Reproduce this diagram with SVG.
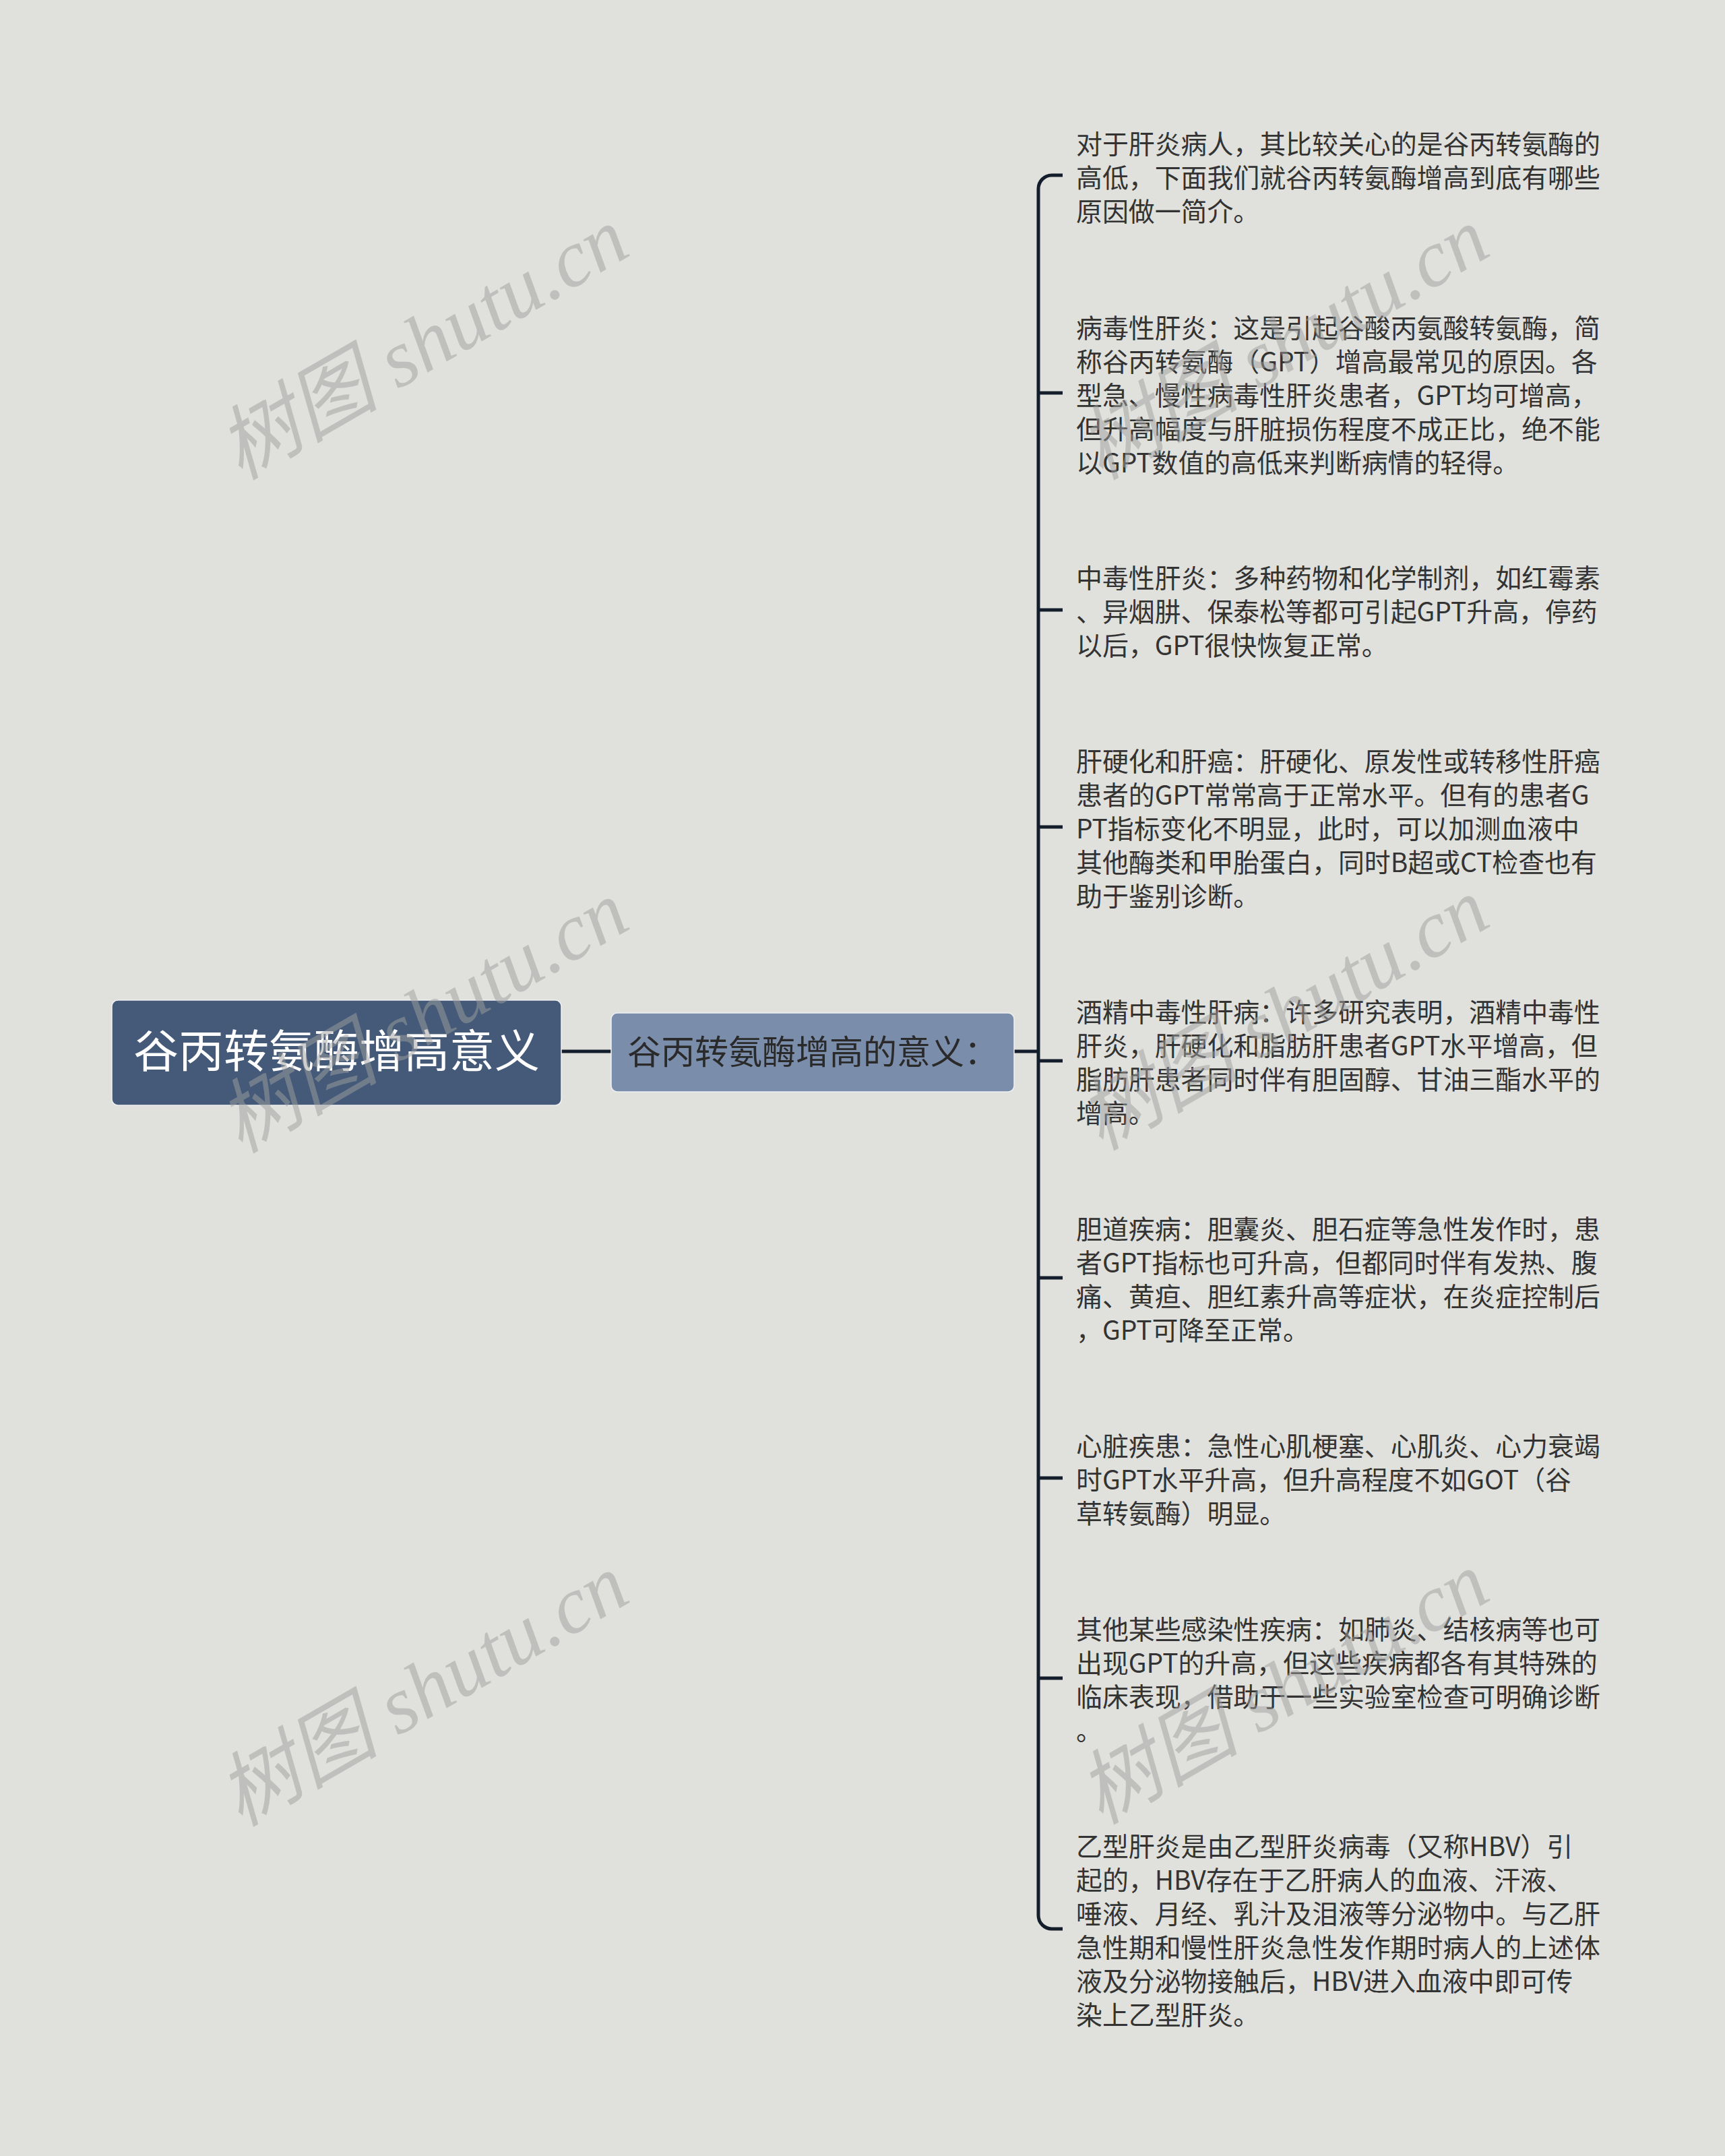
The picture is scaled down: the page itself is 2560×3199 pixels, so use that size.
<svg xmlns="http://www.w3.org/2000/svg" width="2560" height="3199" viewBox="0 0 2560 3199">
<style>
.bg{fill:#e0e1dc}
.conn{fill:none;stroke:#131d2b;stroke-width:5;stroke-linecap:butt}
.root{fill:#445a78;stroke:#eef0f2;stroke-width:1.5}
.sub{fill:#7a8dab;stroke:#eef0f2;stroke-width:1.5}
.t{font-family:"Noto Sans CJK SC","Noto Sans",sans-serif;fill:#333333;font-size:38.9px}
.rt{font-family:"Noto Sans CJK SC","Noto Sans",sans-serif;fill:#ffffff;font-size:67px}
.st{font-family:"Noto Sans CJK SC","Noto Sans",sans-serif;fill:#2a2a2a;font-size:50px}
.wm{font-family:"Liberation Serif","Noto Sans CJK SC",serif;font-style:italic;font-size:120px;fill:#a0a0a0;opacity:0.5}
</style>
<rect class="bg" x="0" y="0" width="2560" height="3199"/>

<g id="connectors">
<path class="conn" d="M833 1560 H907"/>
<path class="conn" d="M1505 1560 H1541"/>
<path class="conn" d="M1577 260 H1561 A20 20 0 0 0 1541 280 V2842 A20 20 0 0 0 1561 2862 H1577"/>
<path class="conn" d="M1541 583 H1577"/>
<path class="conn" d="M1541 905 H1577"/>
<path class="conn" d="M1541 1227 H1577"/>
<path class="conn" d="M1541 1574 H1577"/>
<path class="conn" d="M1541 1896 H1577"/>
<path class="conn" d="M1541 2193 H1577"/>
<path class="conn" d="M1541 2490 H1577"/>
</g>

<g id="node-root">
<rect class="root" x="166" y="1484" width="667" height="156" rx="9"/>
<text class="rt" x="499.5" y="1584" text-anchor="middle">谷丙转氨酶增高意义</text>
</g>

<g id="node-sub">
<rect class="sub" x="907" y="1503" width="598" height="117" rx="9"/>
<text class="st" x="931" y="1579">谷丙转氨酶增高的意义：</text>
</g>

<g id="leaf-1">
<text class="t" x="1597" y="228">对于肝炎病人，其比较关心的是谷丙转氨酶的</text>
<text class="t" x="1597" y="278">高低，下面我们就谷丙转氨酶增高到底有哪些</text>
<text class="t" x="1597" y="328">原因做一简介。</text>
</g>

<g id="leaf-2">
<text class="t" x="1597" y="501">病毒性肝炎：这是引起谷酸丙氨酸转氨酶，简</text>
<text class="t" x="1597" y="551">称谷丙转氨酶（GPT）增高最常见的原因。各</text>
<text class="t" x="1597" y="601">型急、慢性病毒性肝炎患者，GPT均可增高，</text>
<text class="t" x="1597" y="651">但升高幅度与肝脏损伤程度不成正比，绝不能</text>
<text class="t" x="1597" y="701">以GPT数值的高低来判断病情的轻得。</text>
</g>

<g id="leaf-3">
<text class="t" x="1597" y="872">中毒性肝炎：多种药物和化学制剂，如红霉素</text>
<text class="t" x="1597" y="922">、异烟肼、保泰松等都可引起GPT升高，停药</text>
<text class="t" x="1597" y="972">以后，GPT很快恢复正常。</text>
</g>

<g id="leaf-4">
<text class="t" x="1597" y="1144">肝硬化和肝癌：肝硬化、原发性或转移性肝癌</text>
<text class="t" x="1597" y="1194">患者的GPT常常高于正常水平。但有的患者G</text>
<text class="t" x="1597" y="1244">PT指标变化不明显，此时，可以加测血液中</text>
<text class="t" x="1597" y="1294">其他酶类和甲胎蛋白，同时B超或CT检查也有</text>
<text class="t" x="1597" y="1344">助于鉴别诊断。</text>
</g>

<g id="leaf-5">
<text class="t" x="1597" y="1516">酒精中毒性肝病：许多研究表明，酒精中毒性</text>
<text class="t" x="1597" y="1566">肝炎，肝硬化和脂肪肝患者GPT水平增高，但</text>
<text class="t" x="1597" y="1616">脂肪肝患者同时伴有胆固醇、甘油三酯水平的</text>
<text class="t" x="1597" y="1666">增高。</text>
</g>

<g id="leaf-6">
<text class="t" x="1597" y="1838">胆道疾病：胆囊炎、胆石症等急性发作时，患</text>
<text class="t" x="1597" y="1888">者GPT指标也可升高，但都同时伴有发热、腹</text>
<text class="t" x="1597" y="1938">痛、黄疸、胆红素升高等症状，在炎症控制后</text>
<text class="t" x="1597" y="1988">，GPT可降至正常。</text>
</g>

<g id="leaf-7">
<text class="t" x="1597" y="2160">心脏疾患：急性心肌梗塞、心肌炎、心力衰竭</text>
<text class="t" x="1597" y="2210">时GPT水平升高，但升高程度不如GOT（谷</text>
<text class="t" x="1597" y="2260">草转氨酶）明显。</text>
</g>

<g id="leaf-8">
<text class="t" x="1597" y="2432">其他某些感染性疾病：如肺炎、结核病等也可</text>
<text class="t" x="1597" y="2482">出现GPT的升高，但这些疾病都各有其特殊的</text>
<text class="t" x="1597" y="2532">临床表现，借助于一些实验室检查可明确诊断</text>
<text class="t" x="1597" y="2582">。</text>
</g>

<g id="leaf-9">
<text class="t" x="1597" y="2754">乙型肝炎是由乙型肝炎病毒（又称HBV）引</text>
<text class="t" x="1597" y="2804">起的，HBV存在于乙肝病人的血液、汗液、</text>
<text class="t" x="1597" y="2854">唾液、月经、乳汁及泪液等分泌物中。与乙肝</text>
<text class="t" x="1597" y="2904">急性期和慢性肝炎急性发作期时病人的上述体</text>
<text class="t" x="1597" y="2954">液及分泌物接触后，HBV进入血液中即可传</text>
<text class="t" x="1597" y="3004">染上乙型肝炎。</text>
</g>

<g id="watermarks">
<text class="wm" transform="translate(648 545) rotate(-30)" text-anchor="middle">树图 shutu.cn</text>
<text class="wm" transform="translate(1925 545) rotate(-30)" text-anchor="middle">树图 shutu.cn</text>
<text class="wm" transform="translate(648 1544) rotate(-30)" text-anchor="middle">树图 shutu.cn</text>
<text class="wm" transform="translate(1925 1540) rotate(-30)" text-anchor="middle">树图 shutu.cn</text>
<text class="wm" transform="translate(648 2543) rotate(-30)" text-anchor="middle">树图 shutu.cn</text>
<text class="wm" transform="translate(1925 2540) rotate(-30)" text-anchor="middle">树图 shutu.cn</text>
</g>
</svg>
